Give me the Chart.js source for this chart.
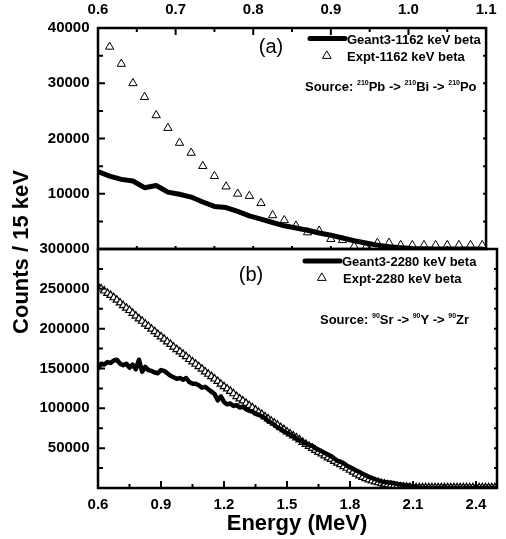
<!DOCTYPE html>
<html>
<head>
<meta charset="utf-8">
<script src="https://cdn.jsdelivr.net/npm/chart.js@4.4.0/dist/chart.umd.min.js"></script>
<style>
  body { margin: 0; background: #fff; }
  #figure { position: relative; width: 506px; height: 539px; }
  #figure canvas { position: absolute; left: 0; top: 0; }
</style>
</head>
<body>
<div id="figure">
  <canvas id="panneauA" width="506" height="539"></canvas>
  <canvas id="panneauB" width="506" height="539"></canvas>
</div>
<script>
// (a) source 210Pb -> 210Bi -> 210Po, comptes par bin de 15 keV
const energiesGeantA = [
  0.6, 0.615, 0.63, 0.645, 0.66, 0.675, 0.69, 0.705, 0.72, 0.735,
  0.75, 0.765, 0.78, 0.795, 0.81, 0.825, 0.84, 0.855, 0.87, 0.885,
  0.9, 0.915, 0.93, 0.945, 0.96, 0.975, 0.99, 1.005, 1.02, 1.035,
  1.05, 1.065, 1.08, 1.095
];
const geantA = [
  14000, 13200, 12600, 12300, 11100, 11500, 10300, 9900, 9400, 8500,
  7700, 7500, 6800, 6000, 5400, 4800, 4200, 3800, 3400, 2900,
  2500, 2000, 1500, 1100, 700, 400, 250, 100, 50, 0,
  0, 0, 0, 0
];
const energiesExptA = [
  0.615, 0.63, 0.645, 0.66, 0.675, 0.69, 0.705, 0.72, 0.735, 0.75,
  0.765, 0.78, 0.795, 0.81, 0.825, 0.84, 0.855, 0.87, 0.885, 0.9,
  0.915, 0.93, 0.945, 0.96, 0.975, 0.99, 1.005, 1.02, 1.035, 1.05,
  1.065, 1.08, 1.095
];
const exptA = [
  36600, 33500, 30000, 27500, 24200, 21900, 19200, 17400, 15000, 13200,
  11300, 10000, 9600, 8300, 6100, 5200, 4200, 3000, 3300, 1800,
  1600, 500, 300, 1100, 1100, 700, 700, 700, 700, 700,
  700, 700, 700
];

// (b) source 90Sr -> 90Y -> 90Zr
const energiesB = [
  0.6, 0.615, 0.63, 0.645, 0.66, 0.675, 0.69, 0.705, 0.72, 0.735,
  0.75, 0.765, 0.78, 0.795, 0.81, 0.825, 0.84, 0.855, 0.87, 0.885,
  0.9, 0.915, 0.93, 0.945, 0.96, 0.975, 0.99, 1.005, 1.02, 1.035,
  1.05, 1.065, 1.08, 1.095, 1.11, 1.125, 1.14, 1.155, 1.17, 1.185,
  1.2, 1.215, 1.23, 1.245, 1.26, 1.275, 1.29, 1.305, 1.32, 1.335,
  1.35, 1.365, 1.38, 1.395, 1.41, 1.425, 1.44, 1.455, 1.47, 1.485,
  1.5, 1.515, 1.53, 1.545, 1.56, 1.575, 1.59, 1.605, 1.62, 1.635,
  1.65, 1.665, 1.68, 1.695, 1.71, 1.725, 1.74, 1.755, 1.77, 1.785,
  1.8, 1.815, 1.83, 1.845, 1.86, 1.875, 1.89, 1.905, 1.92, 1.935,
  1.95, 1.965, 1.98, 1.995, 2.01, 2.025, 2.04, 2.055, 2.07, 2.085,
  2.1, 2.115, 2.13, 2.145, 2.16, 2.175, 2.19, 2.205, 2.22, 2.235,
  2.25, 2.265, 2.28, 2.295, 2.31, 2.325, 2.34, 2.355, 2.37, 2.385,
  2.4, 2.415, 2.43, 2.445, 2.46, 2.475, 2.49
];
const geantB = [
  150000, 156000, 155000, 158000, 157000, 160000, 161000, 156000, 154000, 156000,
  151000, 155000, 149000, 161000, 146000, 152000, 148000, 147000, 145000, 144000,
  148000, 147000, 144000, 141000, 139000, 137000, 138000, 136000, 138000, 133000,
  131000, 131000, 129000, 126000, 127000, 124000, 121000, 118000, 110000, 115000,
  108000, 105000, 106000, 103000, 104000, 101000, 102000, 99000, 97000, 96000,
  93000, 92000, 90000, 88000, 84000, 82000, 79000, 76000, 74000, 71000,
  69000, 67000, 65000, 62000, 60000, 58000, 56000, 54000, 53000, 50000,
  48000, 46000, 44000, 42000, 40000, 37000, 34000, 33000, 31000, 28000,
  26000, 24000, 22000, 20000, 18000, 16000, 14000, 12500, 11000, 9500,
  8300, 7500, 7000, 6500, 6000, 5200, 4500, 3700, 3500, 2800,
  2000, 1200, 500, 100, 0, 0, 0, 0, 0, 0,
  0, 0, 0, 0, 0, 0, 0, 0, 0, 0,
  0, 0, 0, 0, 0, 0, 0
];
const exptB = [
  253000, 250000, 247500, 244500, 242000, 239000, 236000, 232500, 229000, 226000,
  223000, 219500, 216000, 212500, 209500, 206000, 203000, 199500, 196500, 193000,
  190000, 187000, 183500, 180500, 177000, 174000, 171000, 168000, 165000, 161500,
  158500, 155500, 152500, 149500, 146000, 143000, 140000, 137000, 134000, 130500,
  127500, 124500, 121500, 118500, 115000, 112000, 109500, 106500, 103500, 101000,
  98000, 95000, 92500, 89500, 87000, 84000, 81500, 79000, 76000, 73500,
  70500, 68000, 65500, 63000, 60500, 57500, 55000, 52500, 50000, 47500,
  45000, 43000, 40500, 38000, 36000, 33500, 31500, 29500, 27000, 25000,
  22500, 20000, 17500, 15500, 13500, 12000, 10500, 9000, 7800, 6800,
  5800, 5000, 4200, 3500, 2800, 2200, 1700, 1300, 1000, 800,
  500, 500, 500, 500, 500, 500, 500, 500, 500, 500,
  500, 500, 500, 500, 500, 500, 500, 500, 500, 500,
  500, 500, 500, 500, 500, 500, 500
];

const graduationsEnergieA = [0.6, 0.7, 0.8, 0.9, 1.0, 1.1];
const graduationsEnergieB = [0.6, 0.9, 1.2, 1.5, 1.8, 2.1, 2.4];
const graduationsComptesA = [10000, 20000, 30000, 40000];
const graduationsComptesB = [50000, 100000, 150000, 200000, 250000, 300000];

const POLICE = "'Liberation Sans', Arial, sans-serif";

function points(energies, comptes) {
  return energies.map((e, i) => ({ x: e, y: comptes[i] }));
}

function milieux(valeurs) {
  const res = [];
  for (let i = 0; i < valeurs.length - 1; i++) {
    res.push((valeurs[i] + valeurs[i + 1]) / 2);
  }
  return res;
}

function tracerGraduations(chart, cote, valeurs, longueur) {
  const ctx = chart.ctx;
  const zone = chart.chartArea;
  ctx.beginPath();
  for (const v of valeurs) {
    if (cote === "haut" || cote === "bas") {
      const px = chart.scales.x.getPixelForValue(v);
      const y0 = cote === "haut" ? zone.top : zone.bottom;
      const sens = cote === "haut" ? 1 : -1;
      ctx.moveTo(px, y0);
      ctx.lineTo(px, y0 + sens * longueur);
    } else {
      const py = chart.scales.y.getPixelForValue(v);
      const x0 = cote === "gauche" ? zone.left : zone.right;
      const sens = cote === "gauche" ? 1 : -1;
      ctx.moveTo(x0, py);
      ctx.lineTo(x0 + sens * longueur, py);
    }
  }
  ctx.stroke();
}

function triangle(ctx, x, y, r) {
  ctx.beginPath();
  ctx.moveTo(x, y - r);
  ctx.lineTo(x + r * Math.sin(Math.PI / 3), y + r / 2);
  ctx.lineTo(x - r * Math.sin(Math.PI / 3), y + r / 2);
  ctx.closePath();
  ctx.fillStyle = "#fff";
  ctx.fill();
  ctx.lineWidth = 1;
  ctx.strokeStyle = "#000";
  ctx.stroke();
}

// texte avec exposants : [texte, estExposant]
function ecrireSource(ctx, x, y, morceaux) {
  ctx.textAlign = "left";
  ctx.textBaseline = "alphabetic";
  for (const [texte, exposant] of morceaux) {
    ctx.font = exposant ? "bold 7px " + POLICE : "bold 13px " + POLICE;
    ctx.fillText(texte, x, exposant ? y - 6 : y);
    x += ctx.measureText(texte).width;
  }
}

function dessinerLegende(ctx, leg) {
  ctx.save();
  ctx.strokeStyle = "#000";
  ctx.lineWidth = 5;
  ctx.lineCap = "round";
  ctx.beginPath();
  ctx.moveTo(leg.ligneDebut, leg.ligneY);
  ctx.lineTo(leg.ligneFin, leg.ligneY);
  ctx.stroke();
  triangle(ctx, leg.triX, leg.triY, leg.triR);

  ctx.fillStyle = "#000";
  ctx.font = "bold 13px " + POLICE;
  ctx.textAlign = "left";
  ctx.textBaseline = "alphabetic";
  ctx.fillText(leg.texte1, leg.texte1X, leg.texte1Y);
  ctx.fillText(leg.texte2, leg.texte2X, leg.texte2Y);

  ctx.font = "20px " + POLICE;
  ctx.textAlign = "center";
  ctx.fillText(leg.lettre, leg.lettreX, leg.lettreY);

  ecrireSource(ctx, leg.sourceX, leg.sourceY, leg.source);
  ctx.restore();
}

function echelles(position, eMin, eMax, cMax, gradE, gradC, hautAxeX) {
  return {
    x: {
      type: "linear",
      position: position,
      min: eMin,
      max: eMax,
      grid: { display: false, drawTicks: false },
      border: { display: false },
      afterBuildTicks: (axe) => {
        axe.ticks = gradE.map((v) => ({ value: v }));
      },
      afterFit: (axe) => {
        axe.height = hautAxeX;
      },
      ticks: {
        autoSkip: false,
        maxRotation: 0,
        padding: position === "top" ? 9.5 : 7.5,
        color: "#000",
        font: { family: POLICE, size: 15, weight: "bold" },
        callback: (v) => Number(v).toFixed(1),
      },
    },
    y: {
      type: "linear",
      min: 0,
      max: cMax,
      grid: { display: false, drawTicks: false },
      border: { display: false },
      afterBuildTicks: (axe) => {
        axe.ticks = gradC.map((v) => ({ value: v }));
      },
      afterFit: (axe) => {
        axe.width = 98;
      },
      ticks: {
        autoSkip: false,
        padding: 8.5,
        color: "#000",
        font: { family: POLICE, size: 15, weight: "bold" },
        callback: (v) => String(v),
      },
    },
  };
}

function jeuGeant(label, energies, comptes, epaisseur) {
  return {
    label: label,
    data: points(energies, comptes),
    showLine: true,
    borderColor: "#000",
    borderWidth: epaisseur,
    borderJoinStyle: "round",
    borderCapStyle: "round",
    pointRadius: 0,
    tension: 0,
  };
}

function jeuExpt(label, energies, comptes, rayon, trait) {
  return {
    label: label,
    data: points(energies, comptes),
    showLine: false,
    pointStyle: "triangle",
    pointRadius: rayon,
    pointBorderWidth: trait,
    pointBorderColor: "#000",
    pointBackgroundColor: "#fff",
  };
}

const pluginA = {
  id: "cadreA",
  afterDatasetsDraw(chart) {
    const ctx = chart.ctx;
    const zone = chart.chartArea;
    const majeursY = [0].concat(graduationsComptesA);
    const mineursY = milieux(majeursY);
    const mineursX = milieux(graduationsEnergieA);
    ctx.save();
    ctx.strokeStyle = "#000";
    ctx.lineWidth = 2;
    tracerGraduations(chart, "haut", graduationsEnergieA, 7);
    tracerGraduations(chart, "haut", mineursX, 4);
    tracerGraduations(chart, "bas", graduationsEnergieA.concat(mineursX), 3);
    tracerGraduations(chart, "gauche", majeursY, 7);
    tracerGraduations(chart, "gauche", mineursY, 5);
    tracerGraduations(chart, "droite", majeursY.concat(mineursY), 3);
    ctx.lineWidth = 2.5;
    ctx.strokeRect(zone.left, zone.top, zone.right - zone.left, zone.bottom - zone.top);
    ctx.restore();

    dessinerLegende(ctx, {
      ligneDebut: 310, ligneFin: 345, ligneY: 38.5,
      triX: 327, triY: 56, triR: 4.8,
      texte1: "Geant3-1162 keV beta", texte1X: 347, texte1Y: 43.5,
      texte2: "Expt-1162 keV beta", texte2X: 347, texte2Y: 60.5,
      lettre: "(a)", lettreX: 271, lettreY: 52.5,
      sourceX: 305, sourceY: 90.5,
      source: [["Source: ", false], ["210", true], ["Pb -> ", false], ["210", true],
               ["Bi -> ", false], ["210", true], ["Po", false]],
    });
  },
};

const pluginB = {
  id: "cadreB",
  afterDatasetsDraw(chart) {
    const ctx = chart.ctx;
    const zone = chart.chartArea;
    const majeursY = [0].concat(graduationsComptesB);
    const mineursY = milieux(majeursY);
    const mineursX = milieux(graduationsEnergieB);
    ctx.save();
    ctx.strokeStyle = "#000";
    ctx.lineWidth = 2;
    tracerGraduations(chart, "bas", graduationsEnergieB, 7);
    tracerGraduations(chart, "bas", mineursX, 4);
    tracerGraduations(chart, "gauche", majeursY, 7);
    tracerGraduations(chart, "gauche", mineursY, 5);
    tracerGraduations(chart, "droite", majeursY.concat(mineursY), 3);
    ctx.lineWidth = 2.5;
    ctx.strokeRect(zone.left, zone.top, zone.right - zone.left, zone.bottom - zone.top);
    ctx.restore();

    dessinerLegende(ctx, {
      ligneDebut: 305, ligneFin: 340, ligneY: 261,
      triX: 322, triY: 278, triR: 4.8,
      texte1: "Geant3-2280 keV beta", texte1X: 342, texte1Y: 266,
      texte2: "Expt-2280 keV beta", texte2X: 343, texte2Y: 282.5,
      lettre: "(b)", lettreX: 251, lettreY: 281,
      sourceX: 320, sourceY: 324,
      source: [["Source: ", false], ["90", true], ["Sr -> ", false], ["90", true],
               ["Y -> ", false], ["90", true], ["Zr", false]],
    });

    // titres des axes
    ctx.save();
    ctx.fillStyle = "#000";
    ctx.font = "bold 22px " + POLICE;
    ctx.textAlign = "center";
    ctx.textBaseline = "alphabetic";
    ctx.fillText("Energy (MeV)", 297, 529.5);
    ctx.translate(27.5, 252);
    ctx.rotate(-Math.PI / 2);
    ctx.fillText("Counts / 15 keV", 0, 0);
    ctx.restore();
  },
};

const configurationA = {
  type: "scatter",
  data: {
    datasets: [
      jeuGeant("Geant3-1162 keV beta", energiesGeantA, geantA, 5),
      jeuExpt("Expt-1162 keV beta", energiesExptA, exptA, 4.8, 1),
    ],
  },
  options: {
    responsive: false,
    animation: false,
    events: [],
    layout: { padding: { left: 0, right: 9, top: 0, bottom: 290 } },
    plugins: { legend: { display: false }, tooltip: { enabled: false } },
    scales: echelles("top", 0.6, 1.1, 40000, graduationsEnergieA, graduationsComptesA, 28),
  },
  plugins: [pluginA],
};

const configurationB = {
  type: "scatter",
  data: {
    datasets: [
      jeuGeant("Geant3-2280 keV beta", energiesB, geantB, 4.5),
      jeuExpt("Expt-2280 keV beta", energiesB, exptB, 4.3, 1.2),
    ],
  },
  options: {
    responsive: false,
    animation: false,
    events: [],
    layout: { padding: { left: 0, right: 9, top: 249, bottom: 0 } },
    plugins: { legend: { display: false }, tooltip: { enabled: false } },
    scales: echelles("bottom", 0.6, 2.5, 300000, graduationsEnergieB, graduationsComptesB, 51),
  },
  plugins: [pluginB],
};

const graphiqueA = new Chart(document.getElementById("panneauA"), configurationA);
const graphiqueB = new Chart(document.getElementById("panneauB"), configurationB);
</script>
</body>
</html>
